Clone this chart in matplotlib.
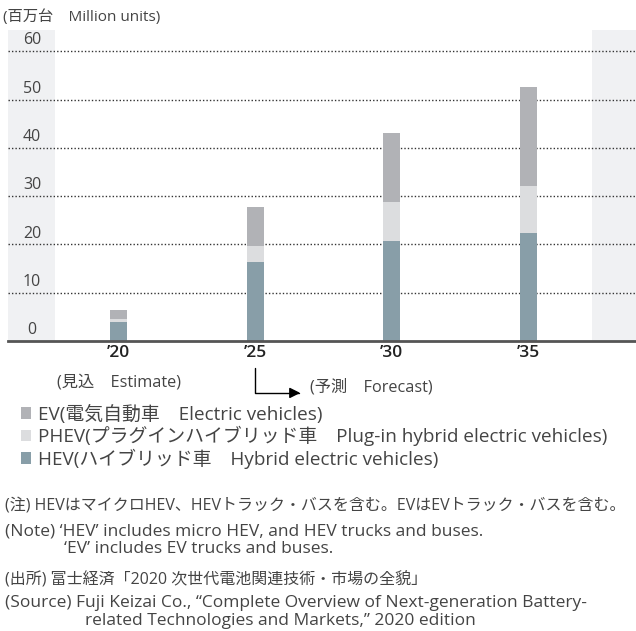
import matplotlib
matplotlib.use("Agg")
import matplotlib.pyplot as plt
import numpy as np

plt.rcParams['font.family'] = ['Open Sans', 'Noto Sans CJK JP', 'DejaVu Sans']

# データ（百万台）
years = ["’20", "’25", "’30", "’35"]
hev = [3.9, 16.3, 20.8, 22.3]
phev = [0.6, 3.3, 7.9, 9.9]
ev = [1.9, 8.1, 14.3, 20.3]
yticks = [0, 10, 20, 30, 40, 50, 60]

labels = ["EV(電気自動車　Electric vehicles)",
          "PHEV(プラグインハイブリッド車　Plug-in hybrid electric vehicles)",
          "HEV(ハイブリッド車　Hybrid electric vehicles)"]

c_ev, c_phev, c_hev = "#b1b2b6", "#dcdddf", "#889ea8"
txt = "#444444"

fig = plt.figure(figsize=(6.36, 6.31), dpi=100)
W, H = 636, 631
ax = fig.add_axes([8 / W, (H - 341) / H, 628 / W, (341 - 30) / H])

x = np.arange(len(years))
ax.set_xlim(-0.809, 3.787)
ax.set_ylim(0, 64.4)

# 左右の灰色の帯
ax.axvspan(-0.809, -0.465, color="#f0f1f3", zorder=0, lw=0)
ax.axvspan(3.465, 3.787, color="#f0f1f3", zorder=0, lw=0)

for v in yticks[1:]:
    ax.axhline(v, color="#333333", lw=1.0, ls=(0, (1, 1.5)), zorder=1)
for v in yticks:
    ax.text(-0.633, v + 0.6, str(v), ha="center", va="bottom", fontsize=11.5, color=txt)

w = 0.125
b_hev = ax.bar(x, hev, w, color=c_hev, zorder=2)
b_phev = ax.bar(x, phev, w, bottom=hev, color=c_phev, zorder=2)
b_ev = ax.bar(x, ev, w, bottom=np.array(hev) + np.array(phev), color=c_ev, zorder=2)

for s in ["top", "right", "left"]:
    ax.spines[s].set_visible(False)
ax.spines["bottom"].set_color("#555555")
ax.spines["bottom"].set_linewidth(2)
ax.set_yticks([])
ax.set_xticks(x)
ax.set_xticklabels(years, fontsize=12.5, fontweight="semibold", color="#222222")
ax.tick_params(axis="x", length=0, pad=3)

# 見込・予測
ax.text(0.0, -0.132, "(見込　Estimate)", transform=ax.get_xaxis_transform(),
        ha="center", va="center", fontsize=11.7, color=txt)
ax.annotate("", xy=(1.33, -0.167), xytext=(1.0, -0.087),
            xycoords=ax.get_xaxis_transform(), textcoords=ax.get_xaxis_transform(),
            arrowprops=dict(arrowstyle="-|>", color="black", lw=1.0, mutation_scale=16,
                            connectionstyle="angle,angleA=90,angleB=0,rad=0",
                            shrinkA=0, shrinkB=0))
ax.text(1.40, -0.150, "(予測　Forecast)", transform=ax.get_xaxis_transform(),
        ha="left", va="center", fontsize=11.7, color=txt)

fig.text(3 / W, 1 - 17 / H, "(百万台　Million units)", ha="left", va="center",
         fontsize=11, color=txt)

fig.legend([b_ev, b_phev, b_hev], labels, loc="upper left",
           bbox_to_anchor=(13 / W, 1 - 397 / H), frameon=False, fontsize=13.6,
           handlelength=0.55, handleheight=0.55, handletextpad=0.4,
           labelspacing=0.12, borderaxespad=0, labelcolor=txt)

notes = [
    (5, 506, "(注) HEVはマイクロHEV、HEVトラック・バスを含む。EVはEVトラック・バスを含む。", 11.5),
    (5, 531, "(Note) ‘HEV’ includes micro HEV, and HEV trucks and buses.", 12.5),
    (64, 549, "‘EV’ includes EV trucks and buses.", 12.5),
    (5, 580, "(出所) 富士経済「2020 次世代電池関連技術・市場の全貌」", 11.5),
    (5, 603, "(Source) Fuji Keizai Co., “Complete Overview of Next-generation Battery-", 12.5),
    (85, 621, "related Technologies and Markets,” 2020 edition", 12.5),
]
for nx, ny, s, fs in notes:
    fig.text(nx / W, 1 - ny / H, s, ha="left", va="center", fontsize=fs, color=txt)

fig.savefig("out.png", dpi=100)
